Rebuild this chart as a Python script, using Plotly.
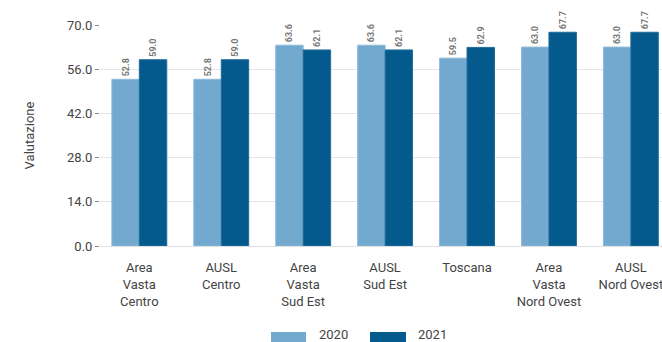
import plotly.graph_objects as go

categories = ["Area<br>Vasta<br>Centro", "AUSL<br>Centro", "Area<br>Vasta<br>Sud Est",
              "AUSL<br>Sud Est", "Toscana", "Area<br>Vasta<br>Nord Ovest", "AUSL<br>Nord Ovest"]
values_2020 = [52.8, 52.8, 63.6, 63.6, 59.5, 63.0, 63.0]
values_2021 = [59.0, 59.0, 62.1, 62.1, 62.9, 67.7, 67.7]
y_ticks = [0, 14, 28, 42, 56, 70]
series_names = ["2020", "2021"]
series_colors = ["#74a9cf", "#045a8d"]
border_colors = ["#8fbadb", "#1f6c99"]

font_family = "Roboto, DejaVu Sans, sans-serif"

fig = go.Figure()
for name, vals, col, bcol in zip(series_names, [values_2020, values_2021],
                                 series_colors, border_colors):
    fig.add_trace(go.Bar(
        x=categories, y=vals, name=name, showlegend=False,
        marker=dict(color=col, line=dict(color=bcol, width=1)),
        texttemplate="<b>%{y:.1f}</b>", textposition="outside", textangle=-90,
        textfont=dict(size=9, color="#777777"), cliponaxis=False,
    ))

# legend drawn by hand: wide swatches that run off the bottom edge like the original
plot_left, plot_w = 100, 562
plot_bottom, plot_h = 246, 221
def px_x(p):
    return (p - plot_left) / plot_w
def px_y(p):
    return (plot_bottom - p) / plot_h

swatch_x = [(271, 306), (370, 406)]
label_x = [317, 416]
for (x0, x1), lx, name, col in zip(swatch_x, label_x, series_names, series_colors):
    fig.add_shape(type="rect", xref="paper", yref="paper",
                  x0=px_x(x0), x1=px_x(x1), y0=px_y(332), y1=px_y(344),
                  fillcolor=col, line=dict(width=0))
    fig.add_annotation(xref="paper", yref="paper", x=px_x(lx), y=px_y(334),
                       text=name, showarrow=False, xanchor="left", yanchor="middle",
                       font=dict(size=13, color="#444444"))

fig.update_layout(
    width=662, height=342,
    margin=dict(l=100, r=0, t=25, b=96),
    plot_bgcolor="white", paper_bgcolor="white",
    font=dict(family=font_family, size=13, color="#444444"),
    barmode="group", bargap=0.33, bargroupgap=0,
    showlegend=False,
    xaxis=dict(range=[-0.48, 6.38], showgrid=False, ticks="", tickfont=dict(size=13),
               showline=False, ticklabelstandoff=12),
    yaxis=dict(range=[0, 70], tickvals=y_ticks, tickformat=".1f",
               showgrid=True, gridcolor="#e6e6e6", gridwidth=1,
               zeroline=True, zerolinecolor="#e0e0e0", zerolinewidth=1,
               ticks="outside", ticklen=4, tickcolor="#888888",
               tickfont=dict(size=13),
               title=dict(text="Valutazione", font=dict(size=13), standoff=29)),
)

# drop the default page margin so the chart sits at the window origin
fig.write_html("out.html", config={"displayModeBar": False},
               post_script="document.body.style.margin='0';")
